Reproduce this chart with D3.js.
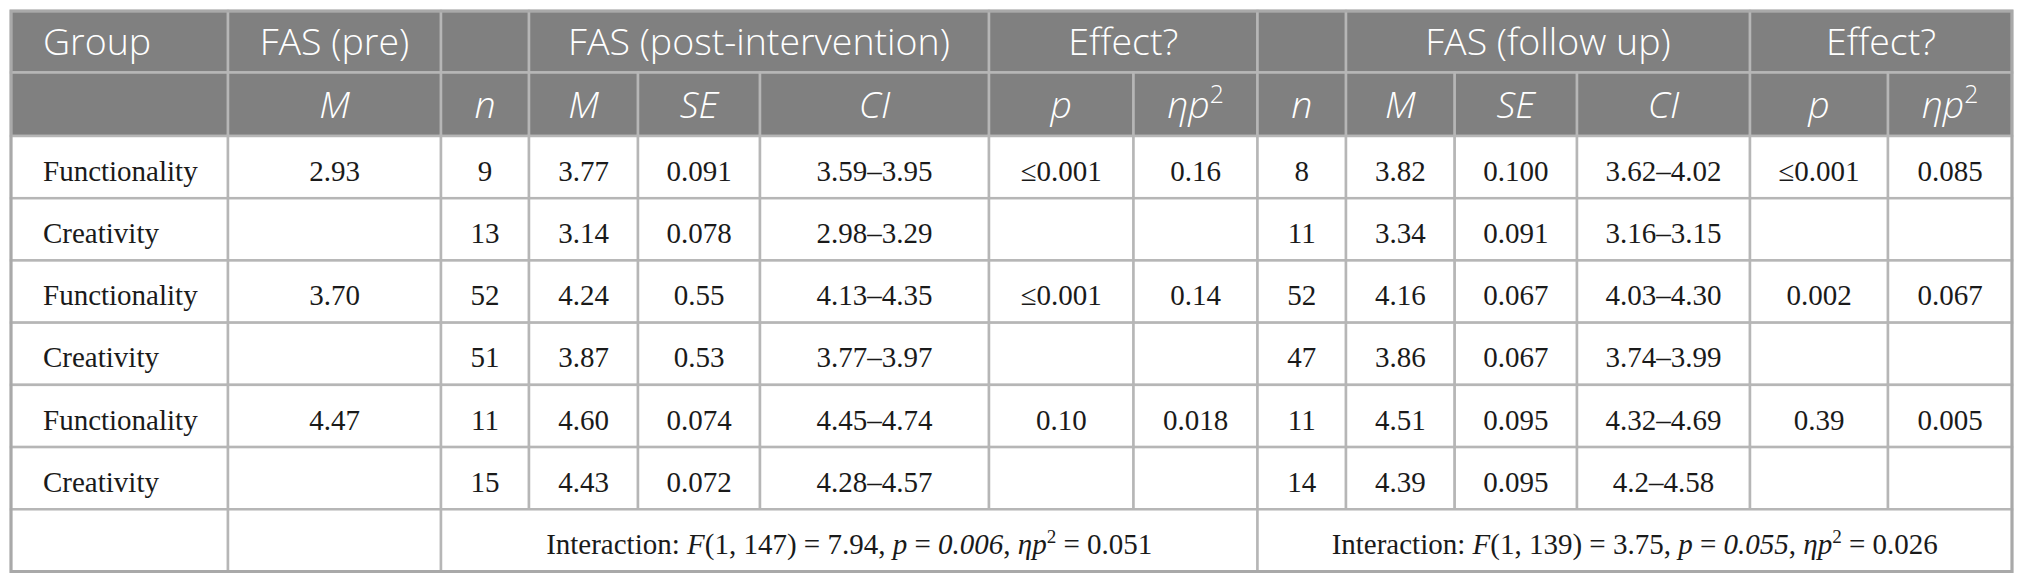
<!DOCTYPE html>
<html>
<head>
<meta charset="utf-8">
<script src="https://cdn.jsdelivr.net/npm/d3@7"></script>
<style>
  html, body { margin: 0; padding: 0; background: #fff; }
  svg { display: block; }
</style>
</head>
<body>
<svg class="js-table"></svg>
<script>
(function tableModule(d3) {
  /* <TABLE DATA> */
  var groups = ['Functionality', 'Creativity', 'Functionality', 'Creativity', 'Functionality', 'Creativity'];
  var fasPre = ['2.93', '', '3.70', '', '4.47', ''];

  var postN = ['9', '13', '52', '51', '11', '15'];
  var postM = ['3.77', '3.14', '4.24', '3.87', '4.60', '4.43'];
  var postSE = ['0.091', '0.078', '0.55', '0.53', '0.074', '0.072'];
  var postCI = ['3.59–3.95', '2.98–3.29', '4.13–4.35', '3.77–3.97', '4.45–4.74', '4.28–4.57'];
  var postP = ['≤0.001', '', '≤0.001', '', '0.10', ''];
  var postEta = ['0.16', '', '0.14', '', '0.018', ''];

  var followN = ['8', '11', '52', '47', '11', '14'];
  var followM = ['3.82', '3.34', '4.16', '3.86', '4.51', '4.39'];
  var followSE = ['0.100', '0.091', '0.067', '0.067', '0.095', '0.095'];
  var followCI = ['3.62–4.02', '3.16–3.15', '4.03–4.30', '3.74–3.99', '4.32–4.69', '4.2–4.58'];
  var followP = ['≤0.001', '', '0.002', '', '0.39', ''];
  var followEta = ['0.085', '', '0.067', '', '0.005', ''];

  // header row 1: [label, first col, last col + 1]
  var topHeaders = [
    ['Group', 0, 1], ['FAS (pre)', 1, 2], ['', 2, 3], ['FAS (post-intervention)', 3, 6],
    ['Effect?', 6, 8], ['', 8, 9], ['FAS (follow up)', 9, 12], ['Effect?', 12, 14]
  ];
  var subHeaders = ['', 'M', 'n', 'M', 'SE', 'CI', 'p', 'eta', 'n', 'M', 'SE', 'CI', 'p', 'eta'];

  // interaction statistics: [F df, F value, p, eta]
  var interactionPost = ['1, 147', '7.94', '0.006', '0.051'];
  var interactionFollow = ['1, 139', '3.75', '0.055', '0.026'];
  /* </TABLE DATA> */

  /* <LAYOUT> */
  var width = 2026;
  var height = 585;
  var colEdges = [11, 228, 441, 529, 638, 760, 989, 1133.5, 1257.5, 1346, 1454.7, 1577, 1750, 1888, 2012];
  var headTop = 11;
  var headMid = 72.5;
  var bodyTop = 136;
  var bodyBottom = 571.5;

  var headFont = '"Open Sans", sans-serif';
  var bodyFont = '"Liberation Serif", "Times New Roman", serif';
  var headSize = 37.5;
  var bodySize = 29;
  var headFill = '#808080';
  var gridColor = '#b6b6b6';
  /* </LAYOUT> */

  var svg = d3.select('.js-table')
    .attr('width', width)
    .attr('height', height);

  var colX = d3.scaleOrdinal()
    .domain(d3.range(colEdges.length))
    .range(colEdges);

  var bodyRows = d3.range(groups.length + 1);
  var rowY = d3.scaleBand()
    .domain(bodyRows)
    .range([bodyTop, bodyBottom]);

  var columns = [groups, fasPre, postN, postM, postSE, postCI, postP, postEta,
    followN, followM, followSE, followCI, followP, followEta];

  /* <HELPERS> */
  function drawCell(x0, x1, y0, y1, fill) {
    svg.append('rect')
      .attr('x', x0)
      .attr('y', y0)
      .attr('width', x1 - x0)
      .attr('height', y1 - y0)
      .attr('fill', fill)
      .attr('stroke', gridColor)
      .attr('stroke-width', 2.5);
  }

  function addEta(textSel, size) {
    textSel.append('tspan').attr('font-style', 'italic').text('ηp');
    textSel.append('tspan')
      .attr('font-size', size * 0.66)
      .attr('dy', -size * 0.38)
      .text('2');
  }

  function interactionText(x, y, stats) {
    var t = svg.append('text')
      .attr('x', x)
      .attr('y', y)
      .attr('text-anchor', 'middle')
      .attr('font-family', bodyFont)
      .attr('font-size', bodySize)
      .attr('fill', '#1a1a1a');
    t.append('tspan').text('Interaction: ');
    t.append('tspan').attr('font-style', 'italic').text('F');
    t.append('tspan').text('(' + stats[0] + ') = ' + stats[1] + ', ');
    t.append('tspan').attr('font-style', 'italic').text('p');
    t.append('tspan').text(' = ');
    t.append('tspan').attr('font-style', 'italic').text(stats[2]);
    t.append('tspan').text(', ');
    addEta(t, bodySize);
    t.append('tspan').attr('dy', bodySize * 0.38).text(' = ' + stats[3]);
  }
  /* </HELPERS> */

  /* <HEADER> */
  topHeaders.forEach(function drawTop(h) {
    drawCell(colX(h[1]), colX(h[2]), headTop, headMid, headFill);
  });
  subHeaders.forEach(function drawSub(h, i) {
    drawCell(colX(i), colX(i + 1), headMid, bodyTop, headFill);
  });

  var capHead = headSize * 0.714 / 2;
  topHeaders.forEach(function labelTop(h) {
    if (!h[0]) return;
    var left = h[1] === 0;
    svg.append('text')
      .attr('x', left ? colX(0) + 32 : (colX(h[1]) + colX(h[2])) / 2)
      .attr('y', (headTop + headMid) / 2 + capHead)
      .attr('text-anchor', left ? 'start' : 'middle')
      .attr('font-family', headFont)
      .attr('font-weight', 300)
      .attr('font-size', headSize)
      .attr('fill', '#fff')
      .text(h[0]);
  });
  subHeaders.forEach(function labelSub(h, i) {
    if (!h) return;
    var t = svg.append('text')
      .attr('x', (colX(i) + colX(i + 1)) / 2)
      .attr('y', (headMid + bodyTop) / 2 + capHead)
      .attr('text-anchor', 'middle')
      .attr('font-family', headFont)
      .attr('font-weight', 300)
      .attr('font-size', headSize)
      .attr('fill', '#fff');
    if (h === 'eta') {
      addEta(t, headSize);
    } else {
      t.attr('font-style', 'italic').text(h);
    }
  });
  /* </HEADER> */

  /* <BODY> */
  var capBody = bodySize * 0.662 / 2 + 4;
  groups.forEach(function drawRow(g, r) {
    var y0 = rowY(r);
    var y1 = y0 + rowY.bandwidth();
    columns.forEach(function drawCol(col, c) {
      drawCell(colX(c), colX(c + 1), y0, y1, '#fff');
      if (!col[r]) return;
      svg.append('text')
        .attr('x', c === 0 ? colX(0) + 32 : (colX(c) + colX(c + 1)) / 2)
        .attr('y', y0 + rowY.bandwidth() / 2 + capBody)
        .attr('text-anchor', c === 0 ? 'start' : 'middle')
        .attr('font-family', bodyFont)
        .attr('font-size', bodySize)
        .attr('fill', '#1a1a1a')
        .text(col[r]);
    });
  });

  // interaction row
  var lastRow = groups.length;
  var iy0 = rowY(lastRow);
  var iy1 = iy0 + rowY.bandwidth();
  [[0, 1], [1, 2], [2, 8], [8, 14]].forEach(function drawSpan(s) {
    drawCell(colX(s[0]), colX(s[1]), iy0, iy1, '#fff');
  });
  var iyText = iy0 + rowY.bandwidth() / 2 + capBody;
  interactionText((colX(2) + colX(8)) / 2, iyText, interactionPost);
  interactionText((colX(8) + colX(14)) / 2, iyText, interactionFollow);
  /* </BODY> */

  // outer frame
  svg.append('rect')
    .attr('x', colX(0))
    .attr('y', headTop)
    .attr('width', colX(colEdges.length - 1) - colX(0))
    .attr('height', bodyBottom - headTop)
    .attr('fill', 'none')
    .attr('stroke', '#a9a9a9')
    .attr('stroke-width', 3);
}(d3));
</script>
</body>
</html>
